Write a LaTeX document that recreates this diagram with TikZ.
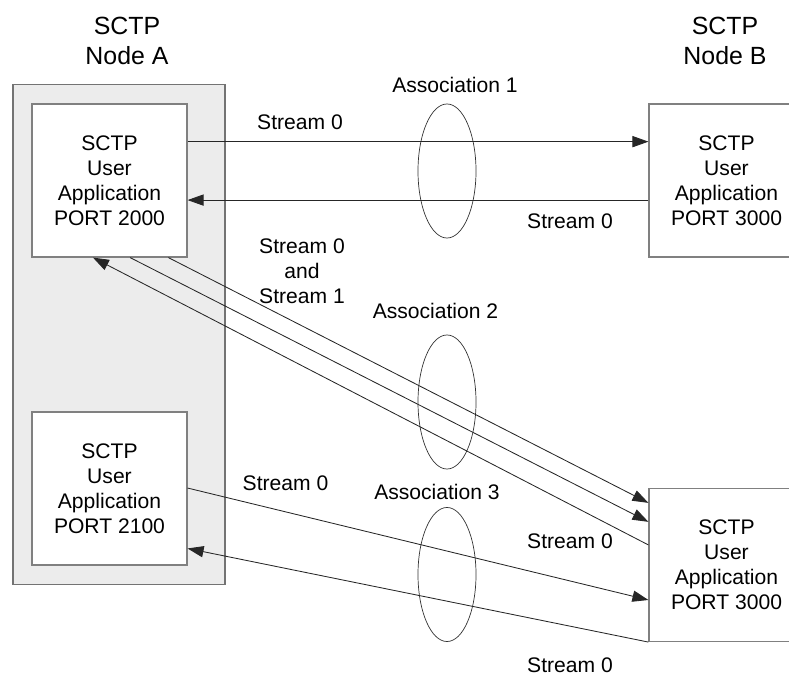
\documentclass[tikz,border=0pt]{standalone}
\usepackage{fontspec}
\setmainfont{Liberation Sans}
\usetikzlibrary{arrows.meta}
\usetikzlibrary{shapes}
\usetikzlibrary{calc}

\begin{document}
\begin{tikzpicture}[x=0.025cm, y=-0.025cm,
    >={Triangle[length=0.4cm,width=0.28cm]},
    flow/.style={draw=black!85, line width=0.6pt},
    appbox/.style={draw=gray, line width=0.8pt, fill=white, minimum width=3.875cm,
        minimum height=3.825cm, align=center, font=\fontsize{15}{17.8}\selectfont},
    hostbox/.style={draw=gray!90!black, line width=0.8pt, fill=gray!15,
        minimum width=5.3cm, minimum height=12.475cm},
    assoc/.style={draw=black!80, ellipse, line width=0.5pt, minimum width=1.45cm,
        minimum height=3.35cm},
    lbl/.style={inner sep=0pt, align=center, font=\fontsize{15}{17.8}\selectfont},
    title/.style={inner sep=0pt, align=center, font=\fontsize{17.7}{21.3}\selectfont}]
    \useasboundingbox (0,0) rectangle (789,675);

    % the two hosts
    \node[hostbox] (hostA) at (119,334.5) {};
    \node[title] (titleA) at (127,41) {SCTP\\Node A};
    \node[title] (titleB) at (725,41) {SCTP\\Node B};

    \node[appbox] (appA1) at (109.5,180.5) {SCTP\\User\\Application\\PORT 2000};
    \node[appbox] (appA2) at (109.5,488.5) {SCTP\\User\\Application\\PORT 2100};
    \node[appbox] (appB1) at (726.5,180.5) {SCTP\\User\\Application\\PORT 3000};
    \node[appbox] (appB2) at (726.5,565) {SCTP\\User\\Application\\PORT 3000};

    % associations
    \node[assoc] (assoc1) at (447,171) {};
    \node[assoc] (assoc2) at (447,402) {};
    \node[assoc] (assoc3) at (447,574.5) {};
    \node[lbl] (assocL1) at (455,84.5) {Association 1};
    \node[lbl] (assocL2) at (435.5,310.5) {Association 2};
    \node[lbl] (assocL3) at (437,492) {Association 3};

    % association 1
    \draw[flow,->] ($(appA1.north east)!.248!(appA1.south east)$)
        -- ($(appB1.north west)!.248!(appB1.south west)$);
    \draw[flow,->] ($(appB1.north west)!.627!(appB1.south west)$)
        -- ($(appA1.north east)!.627!(appA1.south east)$);
    \node[lbl] (strA) at (300,122.5) {Stream 0};
    \node[lbl] (strB) at (570,221.5) {Stream 0};

    % association 2
    \draw[flow,->] ($(appA1.south west)!.877!(appA1.south east)$)
        -- ($(appB2.north west)!.097!(appB2.south west)$);
    \draw[flow,->] ($(appA1.south west)!.632!(appA1.south east)$)
        -- ($(appB2.north west)!.22!(appB2.south west)$);
    \draw[flow,->] ($(appB2.north west)!.37!(appB2.south west)$)
        -- ($(appA1.south west)!.394!(appA1.south east)$);
    \node[lbl] (strC) at (302,271.5) {Stream 0\\and\\Stream 1};
    \node[lbl] (strD) at (570,541.5) {Stream 0};

    % association 3
    \draw[flow,->] ($(appA2.north east)!.497!(appA2.south east)$)
        -- ($(appB2.north west)!.727!(appB2.south west)$);
    \draw[flow,->] (appB2.south west)
        -- ($(appA2.north east)!.889!(appA2.south east)$);
    \node[lbl] (strE) at (285.5,483) {Stream 0};
    \node[lbl] (strF) at (570,665) {Stream 0};
\end{tikzpicture}
\end{document}
